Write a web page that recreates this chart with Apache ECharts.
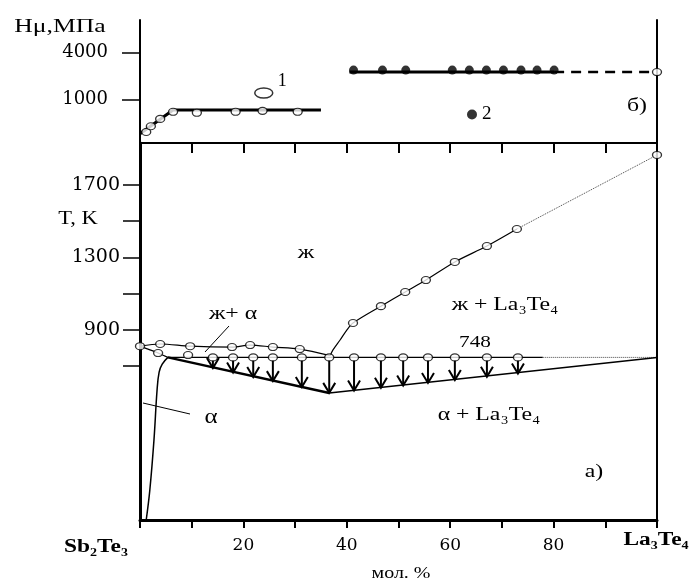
<!DOCTYPE html>
<html>
<head>
<meta charset="utf-8">
<script src="https://cdn.jsdelivr.net/npm/echarts@6/dist/echarts.min.js"></script>
<style>
  html, body { margin: 0; padding: 0; background: #fff; }
  #chart { width: 695px; height: 581px; }
</style>
</head>
<body>
<div id="chart"></div>
<script>
// ---- б) microhardness, MPa (x = mol. % La3Te4) ----
var hvLine1 = [[0, 360], [6.4, 730], [35, 730]];
var hvPts1 = [[1.2, 380], [2.1, 450], [3.9, 560], [6.4, 690], [11.0, 670], [18.5, 690], [23.7, 710], [30.5, 690]];
var hvLine2 = [[40.5, 2240], [80.1, 2240]];
var hvDash2 = [[80.1, 2240], [100, 2240]];
var hvPts2 = [[41.3, 2240], [46.9, 2240], [51.4, 2240], [60.4, 2240], [63.7, 2240], [67.0, 2240], [70.3, 2240], [73.7, 2240], [76.8, 2240], [80.1, 2240]];
var hvTicks = [1000, 4000];

// ---- а) phase diagram, T in K ----
var liqLeft = [[0, 810], [3.9, 822], [9.7, 810], [17.8, 805], [21.3, 816], [25.7, 805], [30.9, 794], [36.8, 758]];
var liqLeftPts = [[0, 810], [3.9, 822], [9.7, 810], [17.8, 805], [21.3, 816], [25.7, 805], [30.9, 794]];
var solidusA = [[0, 810], [3.5, 772], [5.4, 748]];
var solidusPts = [[3.5, 772], [9.3, 761]];
var solvusA = [[5.4, 748], [4.3, 711], [3.7, 667], [3.3, 567], [2.7, 291], [1.9, 15], [1.2, -150]];
var liqRight = [[36.8, 758], [37.3, 788], [38.7, 844], [40.0, 899], [41.2, 938], [46.6, 1031], [51.3, 1109], [55.3, 1175], [60.9, 1275], [67.1, 1363], [72.9, 1457]];
var liqRightPts = [[41.2, 938], [46.6, 1031], [51.3, 1109], [55.3, 1175], [60.9, 1275], [67.1, 1363], [72.9, 1457]];
var liqDotted = [[72.9, 1457], [100, 1866]];
var meltPt = [[100, 1866]];
var T_EUT = 748;
var eutLine = [[5.4, 748], [77.9, 748]];
var eutDotted = [[77.9, 748], [100, 748]];
var lowerThick = [[5.4, 748], [36.6, 551]];
var lowerThin = [[36.6, 551], [100, 748]];
// arrows: x, temperature of arrow tip
var arrows = [[14.1, 689], [18.0, 664], [21.9, 640], [25.7, 617], [31.3, 584], [36.6, 552], [41.4, 565],
              [46.6, 580], [50.9, 593], [55.7, 607], [60.9, 623], [67.1, 641], [73.1, 659]];
var tTicks = [700, 900, 1100, 1300, 1500, 1700];
var tLabels = [900, 1300, 1700];
var xLabels = [20, 40, 60, 80];

var chart = echarts.init(document.getElementById('chart'));

var OVAL = 'path://M0,3.5a4.5,3.5 0 1,0 9,0a4.5,3.5 0 1,0 -9,0z';
var BIG_OVAL = 'path://M0,5a9,5 0 1,0 18,0a9,5 0 1,0 -18,0z';
var NUM_FONT = 'DejaVu Serif';
var TXT_FONT = 'Liberation Serif';

function lg(data) {
  return data.map(function (p) { return [p[0], Math.log10(p[1])]; });
}

function openPts(data, xi, yi, z) {
  return {
    type: 'scatter', xAxisIndex: xi, yAxisIndex: yi, data: data,
    symbol: OVAL, symbolSize: [9, 7], z: z || 5, silent: true,
    itemStyle: { color: '#fff', borderColor: '#000', borderWidth: 1.2 }
  };
}

function line(data, xi, yi, width, type, color, smooth) {
  return {
    type: 'line', xAxisIndex: xi, yAxisIndex: yi, data: data,
    showSymbol: false, symbol: 'none', smooth: smooth || false, silent: true,
    lineStyle: { color: color || '#000', width: width, type: type || 'solid' }
  };
}

function txt(s, x, y, size, opt) {
  opt = opt || {};
  return {
    type: 'text', x: x, y: y, scaleX: opt.sx || 1.25, silent: true,
    style: {
      text: s, fontFamily: TXT_FONT, fontSize: size, fontWeight: opt.bold ? 'bold' : 'normal',
      fill: '#000', align: 'center', verticalAlign: 'middle'
    }
  };
}

var option = {
  animation: false,
  backgroundColor: '#fff',
  grid: [
    { left: 140, right: 38, top: 20, height: 123 },
    { left: 140, right: 38, top: 143, bottom: 61 }
  ],
  legend: [
    {
      data: ['1'], left: 249, top: 67, icon: BIG_OVAL, itemWidth: 18, itemHeight: 10, itemGap: 4,
      selectedMode: false,
      itemStyle: { color: '#fff', borderColor: '#000', borderWidth: 1.5 },
      formatter: '{up|{name}}',
      textStyle: {
        fontFamily: TXT_FONT, fontSize: 18, color: '#000',
        rich: { up: { fontFamily: TXT_FONT, fontSize: 18, color: '#000', padding: [0, 0, 24, 0] } }
      }
    },
    {
      data: ['2'], left: 462, top: 100, icon: 'circle', itemWidth: 10, itemHeight: 10, itemGap: 2,
      selectedMode: false,
      itemStyle: { color: '#000' },
      textStyle: { fontFamily: TXT_FONT, fontSize: 19, color: '#000' }
    }
  ],
  xAxis: [
    {
      gridIndex: 0, type: 'value', min: 0, max: 100, interval: 10,
      axisLine: { lineStyle: { color: '#000', width: 2 } },
      axisTick: { length: 10, lineStyle: { color: '#000', width: 2 } },
      axisLabel: { show: false }, splitLine: { show: false }
    },
    {
      gridIndex: 1, type: 'value', min: 0, max: 100, interval: 10,
      axisLine: { onZero: false, lineStyle: { color: '#000', width: 3 } },
      axisTick: { length: 8, lineStyle: { color: '#000', width: 2 } },
      axisLabel: { customValues: xLabels, margin: 17, fontFamily: NUM_FONT, fontSize: 17, color: '#000' },
      splitLine: { show: false }
    }
  ],
  yAxis: [
    {
      gridIndex: 0, type: 'value', min: 2.438, max: 4.02,
      axisLine: { lineStyle: { color: '#000', width: 2 } },
      axisTick: { customValues: hvTicks.map(Math.log10), length: 18, lineStyle: { color: '#000', width: 1.5 } },
      axisLabel: {
        customValues: hvTicks.map(Math.log10), margin: 32, fontFamily: NUM_FONT, fontSize: 18, color: '#000',
        formatter: function (v) { return String(Math.round(Math.pow(10, v))); }
      },
      splitLine: { show: false }
    },
    {
      gridIndex: 0, type: 'value', position: 'right', min: 2.438, max: 4.02,
      axisLine: { show: true, lineStyle: { color: '#000', width: 2 } },
      axisTick: { show: false }, axisLabel: { show: false }, splitLine: { show: false }
    },
    {
      gridIndex: 1, type: 'value', min: -150, max: 1932,
      axisLine: { onZero: false, lineStyle: { color: '#000', width: 3 } },
      axisTick: { customValues: tTicks, length: 17, lineStyle: { color: '#000', width: 1.5 } },
      axisLabel: {
        customValues: tLabels, margin: 20, fontFamily: NUM_FONT, fontSize: 19, color: '#000',
        formatter: function (v) { return String(v); }
      },
      splitLine: { show: false }
    },
    {
      gridIndex: 1, type: 'value', position: 'right', min: -150, max: 1932,
      axisLine: { show: true, onZero: false, lineStyle: { color: '#000', width: 2 } },
      axisTick: { show: false }, axisLabel: { show: false }, splitLine: { show: false }
    }
  ],
  series: [
    // б) microhardness
    line(lg(hvLine1), 0, 0, 3),
    line(lg(hvLine2), 0, 0, 3),
    line(lg(hvDash2), 0, 0, 2.5, [10, 7]),
    {
      name: '1', type: 'scatter', xAxisIndex: 0, yAxisIndex: 0, data: lg(hvPts1),
      symbol: OVAL, symbolSize: [9, 7], z: 5, silent: true,
      itemStyle: { color: '#fff', borderColor: '#000', borderWidth: 1.2 }
    },
    {
      name: '2', type: 'scatter', xAxisIndex: 0, yAxisIndex: 0, data: lg(hvPts2),
      symbol: 'circle', symbolSize: 9, symbolOffset: [0, -2], z: 5, silent: true,
      itemStyle: { color: '#000' }
    },
    openPts(lg([[100, 2240]]), 0, 0),

    // а) phase diagram
    line(liqLeft, 1, 2, 1.2, 'solid', '#000', 0.3),
    line(solidusA, 1, 2, 1.2, 'solid', '#000', 0.4),
    line(solvusA, 1, 2, 1.5, 'solid', '#000', 0.4),
    line(liqRight, 1, 2, 1.2, 'solid', '#000', 0.3),
    line(liqDotted, 1, 2, 1, 'dotted', '#444'),
    line(eutLine, 1, 2, 1.2),
    line(eutDotted, 1, 2, 1, 'dotted', '#444'),
    line(lowerThick, 1, 2, 2.5),
    line(lowerThin, 1, 2, 1.5),
    {
      type: 'custom', xAxisIndex: 1, yAxisIndex: 2, data: arrows, silent: true, z: 3,
      encode: { x: 0, y: 1 },
      renderItem: function (params, api) {
        var top = api.coord([api.value(0), T_EUT]);
        var bot = api.coord([api.value(0), api.value(1)]);
        return {
          type: 'group',
          children: [
            { type: 'line', shape: { x1: top[0], y1: top[1] + 3, x2: bot[0], y2: bot[1] },
              style: { stroke: '#000', lineWidth: 2 } },
            { type: 'polyline', shape: { points: [[bot[0] - 6, bot[1] - 10], [bot[0], bot[1]], [bot[0] + 6, bot[1] - 10]] },
              style: { stroke: '#000', lineWidth: 2, fill: null } }
          ]
        };
      }
    },
    openPts(liqLeftPts, 1, 2),
    openPts(solidusPts, 1, 2),
    openPts(liqRightPts, 1, 2),
    openPts(meltPt, 1, 2),
    openPts(arrows.map(function (a) { return [a[0], T_EUT]; }), 1, 2, 6)
  ],
  graphic: [
    txt('Hμ,МПа', 60, 27, 19, { sx: 1.35 }),
    txt('б)', 637, 106, 19),
    txt('T, K', 78, 219, 18),
    txt('ж', 306, 253, 19),
    txt('ж + La₃Te₄', 505, 305, 19),
    txt('ж+ α', 233, 314, 19),
    txt('748', 475, 343, 17),
    txt('α + La₃Te₄', 489, 415, 19),
    txt('α', 211, 418, 20),
    txt('а)', 594, 472, 19),
    txt('Sb₂Te₃', 96, 547, 18, { bold: true, sx: 1.3 }),
    txt('La₃Te₄', 656, 540, 18, { bold: true, sx: 1.3 }),
    txt('мол. %', 401, 574, 16),
    // leader lines to region labels
    { type: 'line', silent: true, shape: { x1: 229, y1: 326, x2: 205, y2: 352 }, style: { stroke: '#000', lineWidth: 1 } },
    { type: 'line', silent: true, shape: { x1: 143, y1: 403, x2: 190, y2: 414 }, style: { stroke: '#000', lineWidth: 1 } }
  ]
};

chart.setOption(option);
window.addEventListener('resize', function () { chart.resize(); });
</script>
</body>
</html>
